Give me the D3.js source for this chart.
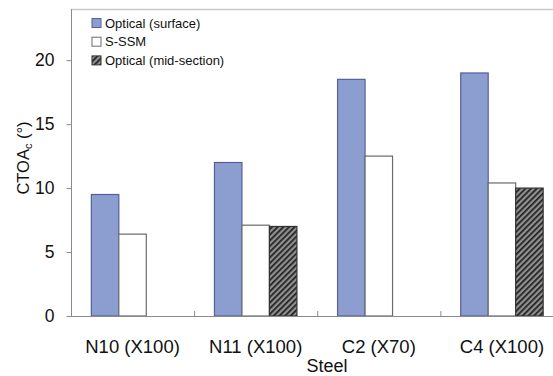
<!DOCTYPE html>
<html>
<head>
<meta charset="utf-8">
<script src="https://cdn.jsdelivr.net/npm/d3@7"></script>
<style>
  body { margin: 0; background: #fff; }
  text { font-family: "Liberation Sans", Arial, sans-serif; fill: #111; }
</style>
</head>
<body>
<div id="chart"></div>
<script>
// CTOAc by steel and measurement method
var steels = ["N10 (X100)", "N11 (X100)", "C2 (X70)", "C4 (X100)"];
var seriesNames = ["Optical (surface)", "S-SSM", "Optical (mid-section)"];
var opticalSurface = [9.5, 12.0, 18.5, 19.0];
var sSSM = [6.4, 7.1, 12.5, 10.4];
var opticalMid = [null, 7.0, null, 10.0];
var yTicks = [0, 5, 10, 15, 20];

var width = 553, height = 376;
var plot = { left: 71, top: 9, right: 563.5, bottom: 316 };

var svg = d3.select("#chart")
  .append("svg")
  .attr("width", width)
  .attr("height", height);

var defs = svg.append("defs");
var hatch = defs.append("pattern")
  .attr("id", "hatch")
  .attr("patternUnits", "userSpaceOnUse")
  .attr("width", 4)
  .attr("height", 4)
  .attr("patternTransform", "rotate(45)");
hatch.append("rect").attr("width", 4).attr("height", 4).attr("fill", "#909090");
hatch.append("rect").attr("width", 1.7).attr("height", 4).attr("fill", "#1e1e1e");

var x0 = d3.scaleBand().domain(steels).range([plot.left, plot.right]).padding(0);
var x1 = d3.scaleBand().domain(seriesNames).range([0, x0.bandwidth()])
  .paddingInner(0).paddingOuter(0.74);
var y = d3.scaleLinear().domain([0, 24]).range([plot.bottom, plot.top]);

var styles = {
  "Optical (surface)": { fill: "#8c9dd0", stroke: "#55609a" },
  "S-SSM": { fill: "#ffffff", stroke: "#6a6a6a" },
  "Optical (mid-section)": { fill: "url(#hatch)", stroke: "#333" }
};

// frame lines
svg.append("line")
  .attr("x1", plot.left).attr("x2", width)
  .attr("y1", plot.top + 0.5).attr("y2", plot.top + 0.5)
  .attr("stroke", "#c8c8c8").attr("stroke-width", 1.5);

// y axis
var yAxis = svg.append("g")
  .attr("transform", "translate(" + (plot.left + 0.5) + ",0)")
  .call(d3.axisLeft(y).tickValues(yTicks).tickSize(5).tickPadding(12));
yAxis.select(".domain").remove();
yAxis.append("line")
  .attr("y1", plot.top).attr("y2", plot.bottom)
  .attr("stroke", "#8a8a8a");
yAxis.selectAll(".tick line").attr("stroke", "#8a8a8a");
yAxis.selectAll(".tick text")
  .attr("font-size", 17.5)
  .attr("fill", "#111");

// bars
var rows = [];
steels.forEach(function (s, i) {
  rows.push({ steel: s, series: seriesNames[0], value: opticalSurface[i] });
  rows.push({ steel: s, series: seriesNames[1], value: sSSM[i] });
  if (opticalMid[i] != null) {
    rows.push({ steel: s, series: seriesNames[2], value: opticalMid[i] });
  }
});

svg.append("g")
  .selectAll("rect")
  .data(rows)
  .enter()
  .append("rect")
  .attr("x", (d) => x0(d.steel) + x1(d.series))
  .attr("y", (d) => y(d.value))
  .attr("width", x1.bandwidth())
  .attr("height", (d) => y(0) - y(d.value))
  .attr("fill", (d) => styles[d.series].fill)
  .attr("stroke", (d) => styles[d.series].stroke)
  .attr("stroke-width", 1.2);

// x axis
var xAxis = svg.append("g");
xAxis.append("line")
  .attr("x1", plot.left).attr("x2", width)
  .attr("y1", plot.bottom + 0.5).attr("y2", plot.bottom + 0.5)
  .attr("stroke", "#8a8a8a");
xAxis.selectAll("line.sep")
  .data(steels.slice(1))
  .enter()
  .append("line")
  .attr("class", "sep")
  .attr("x1", (d) => x0(d) + 0.5).attr("x2", (d) => x0(d) + 0.5)
  .attr("y1", plot.bottom).attr("y2", plot.bottom - 5)
  .attr("stroke", "#8a8a8a");
xAxis.selectAll("text")
  .data(steels)
  .enter()
  .append("text")
  .attr("x", (d) => x0(d) + x0.bandwidth() / 2)
  .attr("y", 353)
  .attr("text-anchor", "middle")
  .attr("font-size", 18.5)
  .text((d) => d);

svg.append("text")
  .attr("x", 327)
  .attr("y", 372)
  .attr("text-anchor", "middle")
  .attr("font-size", 18)
  .text("Steel");

// y title
var yTitle = svg.append("text")
  .attr("transform", "translate(29,158) rotate(-90)")
  .attr("text-anchor", "middle")
  .attr("font-size", 16.5);
yTitle.append("tspan").text("CTOA");
yTitle.append("tspan").attr("font-size", 11).attr("dy", 3).text("c");
yTitle.append("tspan").attr("dy", -3).text(" (°)");

// legend
var legend = svg.append("g")
  .selectAll("g")
  .data(seriesNames)
  .enter()
  .append("g")
  .attr("transform", (d, i) => "translate(92," + (23 + i * 18.7) + ")");
legend.append("rect")
  .attr("x", 0).attr("y", -4.5)
  .attr("width", 9).attr("height", 9)
  .attr("fill", (d) => styles[d].fill)
  .attr("stroke", (d) => styles[d].stroke)
  .attr("stroke-width", 1);
legend.append("text")
  .attr("x", 13)
  .attr("y", 0)
  .attr("dy", "0.35em")
  .attr("font-size", 13)
  .text((d) => d);
</script>
</body>
</html>
